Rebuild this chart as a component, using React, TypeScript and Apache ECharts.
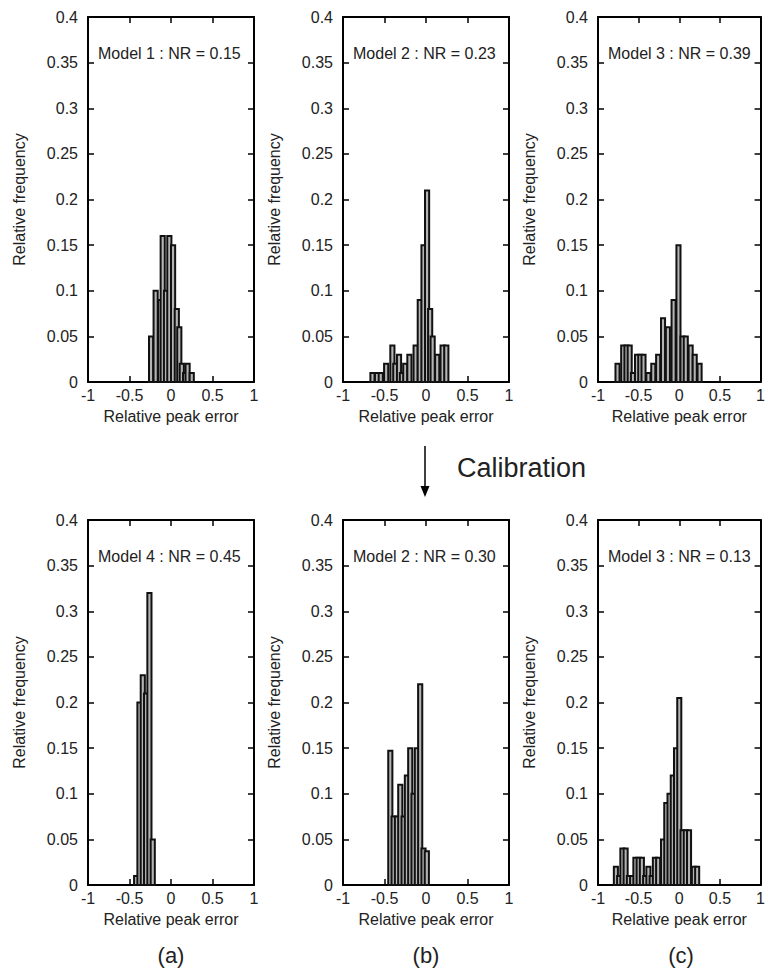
import React, { useEffect, useRef } from "react";
import * as echarts from "echarts";

const BIN_WIDTH = 0.05;

const panelLabels = [
  "Model 1 : NR = 0.15",
  "Model 2 : NR = 0.23",
  "Model 3 : NR = 0.39",
  "Model 4 : NR = 0.45",
  "Model 2 : NR = 0.30",
  "Model 3 : NR = 0.13",
];

const captions = ["(a)", "(b)", "(c)"];

const xTicks = [-1, -0.5, 0, 0.5, 1];

// Panel 1: Model 1
const centers1 = [-0.24, -0.185, -0.13, -0.1, -0.06, -0.02, 0.025, 0.07, 0.1, 0.13, 0.17, 0.2, 0.25];
const freq1 = [0.05, 0.1, 0.09, 0.16, 0.1, 0.16, 0.15, 0.08, 0.06, 0.02, 0.01, 0.02, 0.01];

// Panel 2: Model 2
const centers2 = [-0.645, -0.59, -0.545, -0.48, -0.405, -0.37, -0.325, -0.29, -0.25, -0.2, -0.125, -0.075, -0.03, 0.013, 0.05, 0.08, 0.135, 0.2, 0.245];
const freq2 = [0.01, 0.01, 0.01, 0.02, 0.04, 0.02, 0.03, 0.01, 0.02, 0.03, 0.04, 0.09, 0.15, 0.21, 0.08, 0.05, 0.03, 0.04, 0.04];

// Panel 3: Model 3
const centers3 = [-0.76, -0.69, -0.65, -0.61, -0.57, -0.52, -0.48, -0.44, -0.38, -0.32, -0.26, -0.2, -0.14, -0.07, -0.01, 0.04, 0.08, 0.14, 0.19, 0.25];
const freq3 = [0.02, 0.04, 0.04, 0.04, 0.01, 0.03, 0.03, 0.03, 0.01, 0.02, 0.03, 0.07, 0.06, 0.09, 0.15, 0.05, 0.05, 0.04, 0.03, 0.02];

// Panel 4: Model 4 (calibrated)
const centers4 = [-0.42, -0.38, -0.34, -0.3, -0.26, -0.22];
const freq4 = [0.01, 0.2, 0.23, 0.21, 0.32, 0.05];

// Panel 5: Model 2 (calibrated)
const centers5 = [-0.43, -0.39, -0.35, -0.31, -0.27, -0.23, -0.19, -0.15, -0.11, -0.07, -0.03, 0.01];
const freq5 = [0.147, 0.075, 0.075, 0.11, 0.075, 0.12, 0.15, 0.1, 0.15, 0.22, 0.04, 0.037];

// Panel 6: Model 3 (calibrated)
const centers6 = [-0.78, -0.74, -0.7, -0.66, -0.62, -0.58, -0.54, -0.5, -0.46, -0.42, -0.38, -0.34, -0.3, -0.26, -0.2, -0.16, -0.12, -0.08, -0.04, 0.0, 0.04, 0.08, 0.12, 0.18, 0.22];
const freq6 = [0.02, 0.01, 0.04, 0.04, 0.01, 0.01, 0.03, 0.03, 0.03, 0.01, 0.02, 0.01, 0.03, 0.03, 0.05, 0.09, 0.1, 0.12, 0.15, 0.205, 0.06, 0.06, 0.06, 0.02, 0.02];

const panelCenters = [centers1, centers2, centers3, centers4, centers5, centers6];
const panelFreqs = [freq1, freq2, freq3, freq4, freq5, freq6];

const FONT = "Liberation Sans, Arial, sans-serif";
const TEXT = "#222";

export default function App() {
  const ref = useRef<HTMLDivElement>(null);

  useEffect(() => {
    document.body.style.margin = "0";
    const chart = echarts.init(ref.current!, undefined, { renderer: "svg" });

    const colLeft = [88, 343, 598];
    const rowTop = [17, 520];
    const W = 166;
    const H = 365;

    const grids: any[] = [];
    const xAxes: any[] = [];
    const yAxes: any[] = [];
    const series: any[] = [];
    const graphics: any[] = [];

    const lineStyle = { color: "#000", width: 2 };
    const tickStyle = { color: "#000", width: 1.5 };

    for (let p = 0; p < 6; p++) {
      const r = Math.floor(p / 3);
      const c = p % 3;
      grids.push({ left: colLeft[c], top: rowTop[r], width: W, height: H, containLabel: false });
      xAxes.push({
        gridIndex: p,
        type: "value",
        min: -1,
        max: 1,
        interval: 0.5,
        position: "bottom",
        axisLine: { show: true, onZero: false, lineStyle },
        axisTick: { show: true, inside: true, length: 6, lineStyle: tickStyle },
        axisLabel: {
          show: true,
          color: TEXT,
          fontSize: 16,
          fontFamily: FONT,
          margin: 5,
          formatter: (v: number) => (xTicks.includes(v) ? String(v) : ""),
        },
        splitLine: { show: false },
        name: "Relative peak error",
        nameLocation: "middle",
        nameGap: 26,
        nameTextStyle: { color: TEXT, fontSize: 16, fontFamily: FONT },
      });
      xAxes.push({
        gridIndex: p,
        type: "value",
        min: -1,
        max: 1,
        interval: 0.5,
        position: "top",
        axisLine: { show: true, onZero: false, lineStyle },
        axisTick: { show: true, inside: true, length: 6, lineStyle: tickStyle },
        axisLabel: { show: false },
        splitLine: { show: false },
      });
      yAxes.push({
        gridIndex: p,
        type: "value",
        min: 0,
        max: 0.4,
        interval: 0.05,
        position: "left",
        axisLine: { show: true, onZero: false, lineStyle },
        axisTick: { show: true, inside: true, length: 6, lineStyle: tickStyle },
        axisLabel: { color: TEXT, fontSize: 16, fontFamily: FONT, margin: 10 },
        splitLine: { show: false },
        name: "Relative frequency",
        nameLocation: "middle",
        nameGap: 61,
        nameRotate: 90,
        nameTextStyle: { color: TEXT, fontSize: 16, fontFamily: FONT },
      });
      yAxes.push({
        gridIndex: p,
        type: "value",
        min: 0,
        max: 0.4,
        interval: 0.05,
        position: "right",
        axisLine: { show: true, onZero: false, lineStyle },
        axisTick: { show: true, inside: true, length: 6, lineStyle: tickStyle },
        axisLabel: { show: false },
        splitLine: { show: false },
      });

      const data = panelCenters[p].map((x, i) => [x, panelFreqs[p][i]]);
      series.push({
        type: "custom",
        xAxisIndex: p * 2,
        yAxisIndex: p * 2,
        data,
        renderItem: (params: any, api: any) => {
          const x = api.value(0);
          const y = api.value(1);
          if (y <= 0) return null;
          const tl = api.coord([x - BIN_WIDTH / 2, y]);
          const br = api.coord([x + BIN_WIDTH / 2, 0]);
          return {
            type: "rect",
            shape: { x: tl[0], y: tl[1], width: br[0] - tl[0], height: br[1] - tl[1] },
            style: { fill: "#b4b4b4", stroke: "#111", lineWidth: 2 },
          };
        },
      });

      graphics.push({
        type: "text",
        left: colLeft[c] + 10,
        top: rowTop[r] + 28,
        style: { text: panelLabels[p], fill: TEXT, fontSize: 16, fontFamily: FONT },
        z: 100,
      });
    }

    captions.forEach((t, c) => {
      graphics.push({
        type: "text",
        x: colLeft[c] + W / 2,
        y: 955,
        style: { text: t, fill: TEXT, fontSize: 22, fontFamily: FONT, align: "center", verticalAlign: "middle" },
      });
    });

    // Calibration arrow and label
    graphics.push({
      type: "line",
      shape: { x1: 425, y1: 446, x2: 425, y2: 490 },
      style: { stroke: "#000", lineWidth: 1.5 },
    });
    graphics.push({
      type: "polygon",
      shape: { points: [[420.5, 486], [429.5, 486], [425, 497]] },
      style: { fill: "#000" },
    });
    graphics.push({
      type: "text",
      x: 457,
      y: 468,
      style: { text: "Calibration", fill: TEXT, fontSize: 27, fontFamily: FONT, verticalAlign: "middle" },
    });

    chart.setOption({
      animation: false,
      backgroundColor: "#fff",
      grid: grids,
      xAxis: xAxes,
      yAxis: yAxes,
      series,
      graphic: graphics,
    });

    return () => chart.dispose();
  }, []);

  return <div ref={ref} style={{ position: "absolute", left: 0, top: 0, width: 768, height: 976 }} />;
}
